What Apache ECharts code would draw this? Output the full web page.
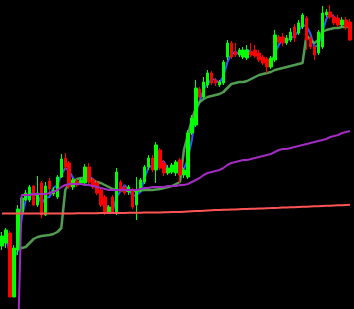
<!DOCTYPE html>
<html>
<head>
<meta charset="utf-8">
<script src="https://cdn.jsdelivr.net/npm/echarts@6/dist/echarts.min.js"></script>
<style>
html,body{margin:0;padding:0;background:#000;}
#chart{width:354px;height:309px;}
</style>
</head>
<body>
<div id="chart"></div>
<script>
const categories = Array.from({length: 89}, (_, i) => String(i + 1));

const openVals = [63,66,76,12,59,97,109,109,123,104,126,94,128,115,112,132,151,146,122,128,126,126,142,129,126,119,112,96,112,97,127,122,117,119,104,119,127,142,151,139,159,146,136,137,136,149,134,132,176,184,220,212,224,236,229,224,226,252,266,257,254,252,251,257,259,256,252,250,242,249,272,272,266,269,282,276,282,291,271,262,256,262,294,297,292,291,284,289,287];
const closeVals = [73,79,12,61,100,111,116,122,104,116,94,123,120,119,132,150,142,122,129,124,129,142,127,122,116,104,96,102,97,137,119,116,122,102,119,129,142,151,139,164,141,136,141,144,147,134,139,176,191,221,212,227,236,226,226,227,247,266,252,254,259,259,259,254,253,249,246,242,251,274,267,266,271,277,271,286,294,269,262,254,277,296,297,292,286,284,289,282,269];
const lowVals = [59,61,12,12,54,95,108,107,103,102,91,93,114,113,110,131,139,120,119,122,124,124,125,120,114,102,94,95,96,94,117,114,114,100,89,117,125,139,137,126,139,133,134,135,133,126,131,130,174,182,209,210,221,224,223,222,224,249,250,252,252,250,249,252,251,247,244,236,240,247,265,263,264,267,267,274,280,259,260,249,254,260,292,290,284,282,282,279,268];
const highVals = [77,81,78,64,104,114,119,124,124,133,128,127,131,122,134,155,156,148,131,130,131,145,146,131,128,122,114,104,114,141,129,124,124,121,132,131,144,154,154,167,161,149,144,146,149,151,141,179,194,229,222,232,239,238,231,229,249,269,268,266,261,262,264,266,264,259,254,252,253,279,274,276,274,281,285,289,296,293,273,264,279,303,300,304,295,294,292,292,290];

const blueLine = [70,72,55,51,58,91,109,116,114,114,105,111,112,121,124,134,141,138,131,125,127,132,133,130,122,114,105,101,98,112,118,124,119,113,114,117,130,141,144,151,148,147,139,140,144,142,140,150,169,196,208,220,225,230,229,226,233,247,255,257,255,257,259,257,255,252,249,246,246,256,264,269,268,271,273,278,284,283,275,262,264,276,290,295,292,287,286,285,280];
const greenLine = [null,null,null,null,61,61,62,66,70,72,73,73.5,74,75,77,81,119,126,128,130,131,131,130,129,127,126,124,122,120,119,119,118.5,118,118,118,118.5,119,119,119,119.5,120,121,122,123,125,127,159,174,189,201,207,210,212,213,214,215,217,221,225,226,227,227,228,230,232,234,235,236,237,239,240,241,242,243,244,245,246,274,269,266,269,277,279,280,281,281,282,282,282];
const purpleLine = [null,null,null,null,-40,114,114,114,115,115,115,115,116,117,119,122,124,125,125,125,125,124,124,123,122,121,120,119,119,119,119,119,119,119,119,120,121,121,122,122,122,122,123,123,123,124,124,125,127,129,131,134,136,137,138,139,141,144,146,147,148,149,149,150,151,152,153,154,155,157,159,160,160,161,162,163,164,165,166,167,168,169,170,172,173,174,176,177,178];
const redLine = [95.5,95.5,95.5,95.5,95.5,95.5,95.5,95.5,95.5,95.5,95.5,95.5,95.5,95.5,95.5,95.5,95.6,95.6,95.6,95.7,95.7,95.7,95.8,95.8,95.8,95.9,95.9,96,96,96,96.1,96.1,96.2,96.2,96.3,96.3,96.4,96.4,96.5,96.5,96.6,96.7,96.8,96.9,97,97.1,97.3,97.5,97.7,97.9,98.1,98.3,98.5,98.7,98.9,99,99.2,99.3,99.5,99.6,99.8,99.9,100,100.2,100.3,100.5,100.6,100.8,100.9,101.1,101.2,101.4,101.5,101.7,101.8,102,102.2,102.3,102.5,102.7,102.8,103,103.2,103.3,103.5,103.7,103.8,104,104.2];

const candleData = openVals.map((o, i) => [o, closeVals[i], lowVals[i], highVals[i]]);

const chart = echarts.init(document.getElementById('chart'), null, {renderer: 'canvas'});
chart.setOption({
  backgroundColor: '#000000',
  animation: false,
  grid: {left: 0, right: 2, top: 0, bottom: 0},
  xAxis: {type: 'category', data: categories, boundaryGap: true, show: false},
  yAxis: {type: 'value', min: 0, max: 309, show: false, splitLine: {show: false}},
  series: [
    {type: 'line', data: blueLine, z: 1, symbol: 'none', smooth: false,
     lineStyle: {color: '#2f5bff', width: 2}},
    {type: 'line', data: greenLine, z: 1, symbol: 'none', smooth: false, connectNulls: false,
     lineStyle: {color: '#5aad5a', width: 2.5, opacity: 0.9}},
    {type: 'candlestick', data: candleData, z: 2, barWidth: 3,
     itemStyle: {color: '#00ff00', color0: '#ff0000', borderColor: '#00ff00', borderColor0: '#ff0000', borderWidth: 1}},
    {type: 'line', data: purpleLine, z: 3, symbol: 'none', smooth: false, clip: true,
     lineStyle: {color: '#a22bc0', width: 2}},
    {type: 'line', data: redLine, z: 3, symbol: 'none', smooth: false,
     lineStyle: {color: '#ff5454', width: 2}}
  ]
});
</script>
</body>
</html>
